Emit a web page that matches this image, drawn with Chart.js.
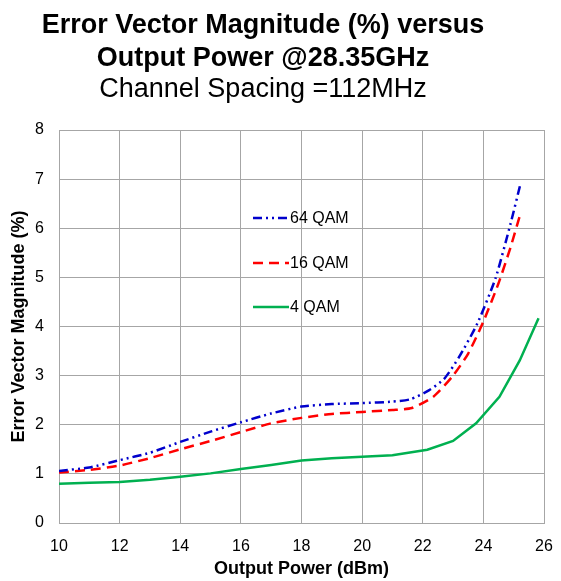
<!DOCTYPE html>
<html>
<head>
<meta charset="utf-8">
<title>EVM versus Output Power</title>
<script src="https://cdn.jsdelivr.net/npm/chart.js@4.4.1/dist/chart.umd.min.js"></script>
<style>
  html, body { margin: 0; padding: 0; background: #fff; }
  #wrap { width: 561px; height: 581px; position: relative; }
</style>
</head>
<body>
<div id="wrap"><canvas id="evmChart"></canvas></div>
<script>
// Output power (dBm) / EVM (%) pairs for each modulation
var qam64Power = [10, 11, 12, 13, 14, 15, 16, 17, 18, 19, 20, 21, 21.6, 22.2, 22.7, 23.2, 23.8, 24.4, 24.9, 25.23];
var qam64Evm   = [1.06, 1.13, 1.28, 1.43, 1.65, 1.86, 2.05, 2.23, 2.37, 2.42, 2.44, 2.47, 2.52, 2.70, 2.93, 3.38, 4.06, 4.98, 6.10, 6.92];

var qam16Power = [10, 11, 12, 13, 14, 15, 16, 17, 18, 19, 20, 21, 21.64, 22.35, 23.0, 23.5, 24.0, 24.5, 24.9, 25.2];
var qam16Evm   = [1.03, 1.08, 1.17, 1.32, 1.50, 1.67, 1.85, 2.03, 2.14, 2.22, 2.26, 2.30, 2.34, 2.57, 3.00, 3.45, 4.10, 4.88, 5.62, 6.25];

var qam4Power = [10, 11, 12, 13, 14, 15, 16, 17, 18, 19, 20, 21, 22.15, 23.0, 23.76, 24.53, 25.2, 25.82];
var qam4Evm   = [0.80, 0.82, 0.835, 0.88, 0.94, 1.01, 1.10, 1.18, 1.27, 1.32, 1.35, 1.38, 1.49, 1.67, 2.03, 2.57, 3.31, 4.17];

var xTicks = [10, 12, 14, 16, 18, 20, 22, 24, 26];
var yTicks = [0, 1, 2, 3, 4, 5, 6, 7, 8];

var titleLines = ['Error Vector Magnitude (%) versus', 'Output Power @28.35GHz'];
var subTitle = 'Channel Spacing =112MHz';

function pairs(xs, ys) {
    return xs.map(function(x, i) { return { x: x, y: ys[i] }; });
}

var FONT = 'Arial, "Liberation Sans", sans-serif';
var GRID = '#a6a6a6';

// Titles drawn above the plot
var titlePlugin = {
    id: 'titleText',
    afterDraw: function(chart) {
        var c = chart.ctx;
        var cx = 263;
        c.save();
        c.fillStyle = '#000';
        c.textAlign = 'center';
        c.textBaseline = 'alphabetic';
        c.font = 'bold 27px ' + FONT;
        c.fillText(titleLines[0], cx, 33);
        c.fillText(titleLines[1], cx, 66);
        c.font = '27px ' + FONT;
        c.fillText(subTitle, cx, 97);
        c.restore();
    }
};

// Legend sitting inside the plot area
var innerLegend = {
    id: 'innerLegend',
    afterDraw: function(chart) {
        var c = chart.ctx;
        var area = chart.chartArea;
        var x0 = area.left + 194;
        var rows = [area.top + 88, area.top + 133, area.top + 177];
        c.save();
        chart.data.datasets.forEach(function(ds, i) {
            var y = rows[i];
            c.beginPath();
            c.strokeStyle = ds.borderColor;
            c.lineWidth = ds.borderWidth;
            c.setLineDash(ds.borderDash || []);
            c.moveTo(x0, y);
            c.lineTo(x0 + 36, y);
            c.stroke();
            c.setLineDash([]);
            c.fillStyle = '#000';
            c.font = '16px ' + FONT;
            c.textAlign = 'left';
            c.textBaseline = 'middle';
            c.fillText(ds.label, x0 + 37, y + 1);
        });
        c.restore();
    }
};

var ctx = document.getElementById('evmChart');

var evmChart = new Chart(ctx, {
    type: 'line',
    data: {
        datasets: [
            {
                label: '64 QAM',
                data: pairs(qam64Power, qam64Evm),
                borderColor: '#0000cc',
                borderWidth: 2.5,
                borderDash: [9, 4, 2, 4, 2, 4],
                pointRadius: 0,
                tension: 0.2,
                fill: false
            },
            {
                label: '16 QAM',
                data: pairs(qam16Power, qam16Evm),
                borderColor: '#ff0000',
                borderWidth: 2.5,
                borderDash: [10, 6],
                pointRadius: 0,
                tension: 0.2,
                fill: false
            },
            {
                label: '4 QAM',
                data: pairs(qam4Power, qam4Evm),
                borderColor: '#00b050',
                borderWidth: 2.5,
                pointRadius: 0,
                tension: 0,
                fill: false
            }
        ]
    },
    options: {
        responsive: true,
        maintainAspectRatio: false,
        animation: false,
        layout: { padding: { top: 130, right: 17, left: 0, bottom: 0 } },
        plugins: {
            legend: { display: false },
            title: { display: false },
            tooltip: { enabled: false }
        },
        scales: {
            x: {
                type: 'linear',
                min: 10,
                max: 26,
                afterBuildTicks: function(axis) {
                    axis.ticks = xTicks.map(function(v) { return { value: v }; });
                },
                afterFit: function(axis) {
                    axis.height = 58;
                    axis.paddingLeft = 0;
                    axis.paddingRight = 0;
                },
                grid: { color: GRID, lineWidth: 1, drawTicks: false },
                border: { color: GRID, width: 1 },
                ticks: { color: '#000', font: { family: FONT, size: 16 }, padding: 14, maxRotation: 0 },
                title: {
                    display: true,
                    text: 'Output Power (dBm)',
                    color: '#000',
                    font: { family: FONT, size: 18, weight: 'bold' },
                    padding: { top: 0, bottom: 1 }
                }
            },
            y: {
                min: 0,
                max: 8,
                afterBuildTicks: function(axis) {
                    axis.ticks = yTicks.map(function(v) { return { value: v }; });
                },
                afterFit: function(axis) { axis.width = 59; },
                grid: { color: GRID, lineWidth: 1, drawTicks: false },
                border: { color: GRID, width: 1 },
                ticks: { color: '#000', font: { family: FONT, size: 16 }, padding: 15 },
                title: {
                    display: true,
                    text: 'Error Vector Magnitude (%)',
                    color: '#000',
                    font: { family: FONT, size: 18, weight: 'bold' },
                    padding: { top: 8, bottom: 0 }
                }
            }
        }
    },
    plugins: [titlePlugin, innerLegend]
});
</script>
</body>
</html>
